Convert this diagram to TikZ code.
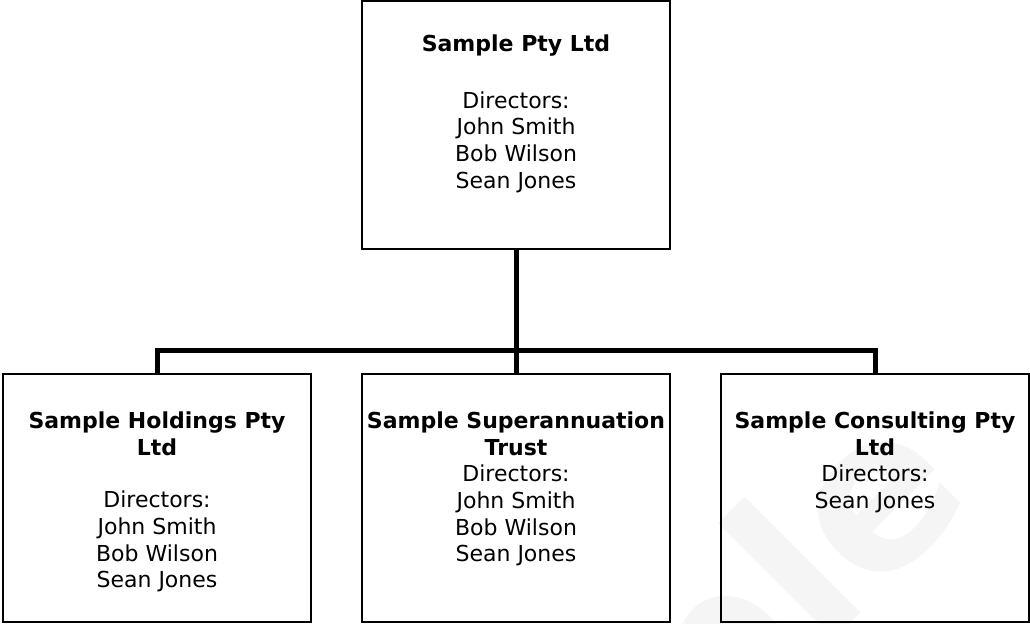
\documentclass[tikz,border=0pt]{standalone}
\usepackage{fontspec}
\setmainfont{DejaVu Sans}
\usetikzlibrary{positioning}

\newcommand{\boxtext}[2]{\parbox[c][123pt][t]{153pt}{\vspace*{#1}\centering #2}}

\begin{document}
\begin{tikzpicture}[
    x=0.5pt, y=-0.5pt,
    entity/.style={draw, line width=0.75pt, inner sep=0pt,
                   minimum width=154pt, minimum height=124pt},
    link/.style={line width=2.5pt},
    every node/.style={font=\fontsize{11}{13.3}\selectfont}
]
\useasboundingbox (0,0) rectangle (1030,624);

% Watermark
\begin{scope}
  \clip (0,0) rectangle (1030,624);
  \node[anchor=base east, rotate=45, text=black!4,
        font=\bfseries\fontsize{108}{108}\selectfont] (mark) at (982,492) {Sample};
\end{scope}

% Parent company
\node[entity] (parent) at (516,125) {\boxtext{16.5pt}{\textbf{Sample Pty Ltd}\\[15pt]
  Directors:\\John Smith\\Bob Wilson\\Sean Jones}};

% Subsidiaries
\node[entity] (holdings)   at (157,498) {\boxtext{18.5pt}{\textbf{Sample Holdings Pty}\\\textbf{Ltd}\\[13pt]
  Directors:\\John Smith\\Bob Wilson\\Sean Jones}};
\node[entity] (super)      at (516,498) {\boxtext{18.5pt}{\textbf{Sample Superannuation}\\\textbf{Trust}\\
  Directors:\\John Smith\\Bob Wilson\\Sean Jones}};
\node[entity] (consulting) at (875,498) {\boxtext{18.5pt}{\textbf{Sample Consulting Pty}\\\textbf{Ltd}\\
  Directors:\\Sean Jones}};

\coordinate (split) at (516,351);

\draw[link] (parent) -- (split);
\draw[link] (holdings.north) |- (split);
\draw[link] (consulting.north) |- (split);
\draw[link] (split) -- (super);
\end{tikzpicture}
\end{document}
